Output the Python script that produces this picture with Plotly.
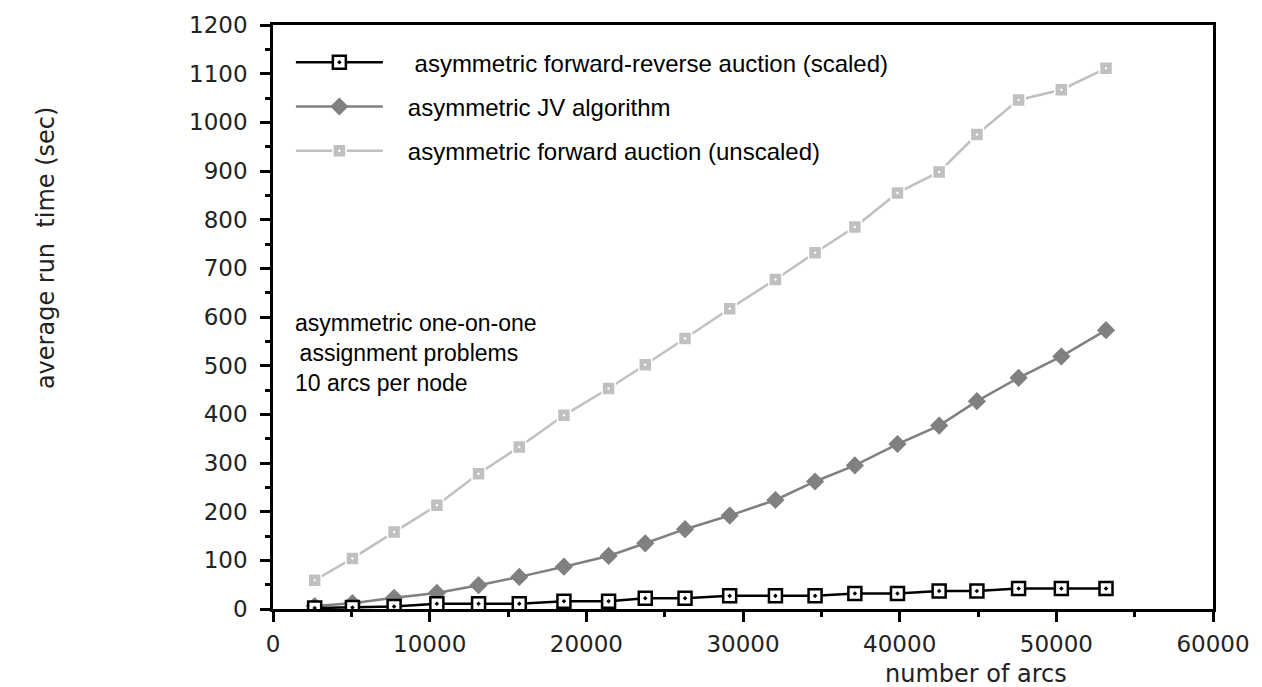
import plotly.graph_objects as go

arcs = [2660, 5070, 7730, 10460, 13120, 15720, 18570, 21420, 23760, 26300,
        29150, 32070, 34600, 37140, 39860, 42520, 44930, 47590, 50320, 53170]
scaled_fr = [2, 3, 5, 11, 11, 11, 16, 16, 22, 22,
             27, 27, 27, 32, 32, 37, 37, 42, 42, 42]
jv = [6, 12, 23, 33, 49, 66, 87, 109, 135, 164,
      192, 224, 262, 295, 339, 377, 427, 475, 519, 573]
unscaled_f = [59, 104, 158, 213, 278, 333, 398, 453, 502, 556,
              617, 677, 732, 785, 855, 898, 975, 1046, 1067, 1111]

names = ["asymmetric forward-reverse auction (scaled)",
         "asymmetric JV algorithm",
         "asymmetric forward auction (unscaled)"]
pad = "&nbsp;" * 3

fig = go.Figure()
fig.add_trace(go.Scatter(
    x=arcs, y=unscaled_f, name=pad + names[2], mode="lines+markers",
    legendgroup="c", legendrank=3,
    line=dict(color="#c0c0c0", width=2.5),
    marker=dict(symbol="square-dot", size=13, color="#c0c0c0",
                line=dict(color="white", width=1.5))))
fig.add_trace(go.Scatter(
    x=arcs, y=jv, name=pad + names[1], mode="lines+markers",
    legendgroup="b", legendrank=2,
    line=dict(color="#808080", width=2.5),
    marker=dict(symbol="diamond", size=14, color="#808080")))
fig.add_trace(go.Scatter(
    x=arcs, y=scaled_fr, name=pad + "&nbsp;" + names[0], mode="lines+markers",
    legendgroup="a", legendrank=1,
    line=dict(color="black", width=2.5),
    marker=dict(symbol="square-dot", size=13, color="white",
                line=dict(color="black", width=2.5))))

tickfont = dict(family="DejaVu Sans", size=23, color="#222")
fig.update_layout(
    width=1262, height=687,
    margin=dict(l=273, r=42, t=23, b=78),
    paper_bgcolor="white", plot_bgcolor="white",
    showlegend=True,
    legend=dict(x=0.019, y=0.974, xanchor="left", yanchor="top",
                traceorder="grouped", itemwidth=87, tracegroupgap=10,
                font=dict(family="Liberation Sans, Arial", size=24, color="black"),
                bgcolor="rgba(0,0,0,0)"),
    xaxis=dict(range=[0, 60000], tickvals=[0, 10000, 20000, 30000, 40000, 50000, 60000],
               tickformat="d",
               showgrid=False, zeroline=False, showline=True, mirror=True,
               linecolor="black", linewidth=2.5, ticks="outside", ticklen=10,
               tickwidth=2.5, tickcolor="black", tickfont=tickfont,
               ticklabelstandoff=3,
               minor=dict(dtick=5000, ticks="outside", ticklen=5, tickwidth=2.5,
                          tickcolor="black", showgrid=False)),
    yaxis=dict(range=[0, 1200], dtick=100, showgrid=False, zeroline=False,
               showline=True, mirror=True, linecolor="black", linewidth=2.5,
               ticks="outside", ticklen=10, tickwidth=2.5, tickcolor="black",
               tickfont=tickfont, ticklabelstandoff=8,
               minor=dict(dtick=50, ticks="outside", ticklen=5, tickwidth=2.5,
                          tickcolor="black", showgrid=False)),
)

fig.add_annotation(
    xref="paper", yref="paper", x=-0.2587, y=0.6177, textangle=-90,
    text="average run&nbsp;&nbsp;time (sec)", showarrow=False,
    font=dict(family="DejaVu Sans", size=24, color="#222"))
fig.add_annotation(
    xref="paper", yref="paper", x=0.847, y=-0.111, yanchor="middle",
    text="number of arcs", showarrow=False,
    font=dict(family="DejaVu Sans", size=24, color="#222"))
fig.add_annotation(
    xref="paper", yref="paper", x=0.021, y=0.4386, xanchor="left", yanchor="middle",
    align="left",
    text="asymmetric one-on-one<br>&#8201;assignment problems<br>10 arcs per node",
    showarrow=False,
    font=dict(family="Liberation Sans, Arial", size=23, color="black"))

fig.write_html("out.html",
               config={"displayModeBar": False},
               post_script="document.body.style.margin='0';"
                           "document.body.style.overflow='hidden';")
